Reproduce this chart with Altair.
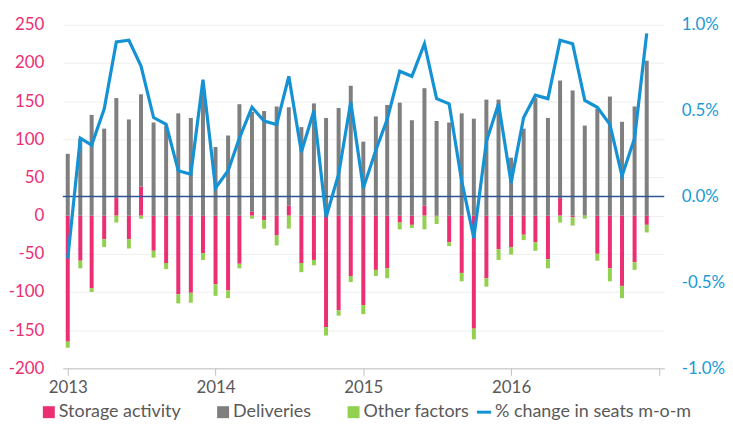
import altair as alt
import pandas as pd

years = [2013, 2014, 2015, 2016]
month_nums = list(range(1, 13))
dates = [f"{y}-{m:02d}-01" for y in years for m in month_nums]

storage = [
    -165, -59, -95, -31, 23, -31, 38, -46, -62, -103, -101, -49,
    -90, -98, -63, 5, -6, -26, 13, -62, -58, -146, -124, -79,
    -117, -71, -69, -9, -12, 13, -1, -35, -75, -148, -82, -44,
    -41, -25, -35, -57, 23, -2, 0, -50, -69, -92, -61, -12,
]
deliveries = [
    81, 101, 132, 114, 131, 126, 121, 122, 118, 134, 128, 172,
    90, 105, 146, 131, 137, 143, 129, 116, 147, 128, 141, 170,
    97, 130, 145, 148, 125, 154, 124, 122, 134, 127, 152, 152,
    76, 114, 154, 128, 154, 164, 118, 140, 156, 123, 143, 203,
]
other = [
    -8, -10, -5, -10, -9, -12, -4, -9, -8, -12, -13, -9,
    -15, -10, -6, -4, -11, -13, -17, -12, -7, -11, -7, -8,
    -12, -8, -13, -9, -4, -18, -10, -5, -11, -14, -11, -14,
    -10, -7, -11, -12, -9, -11, -4, -9, -17, -16, -10, -10,
]
pct_change = [
    -0.36, 0.34, 0.30, 0.51, 0.90, 0.91, 0.76, 0.46, 0.42, 0.15, 0.13, 0.68,
    0.05, 0.15, 0.34, 0.52, 0.44, 0.42, 0.70, 0.26, 0.50, -0.12, 0.13, 0.55,
    0.05, 0.27, 0.45, 0.73, 0.70, 0.89, 0.57, 0.54, 0.09, -0.24, 0.32, 0.54,
    0.08, 0.46, 0.59, 0.57, 0.91, 0.89, 0.56, 0.52, 0.42, 0.12, 0.34, 0.95,
]

series_names = ["Storage activity", "Deliveries", "Other factors"]
line_name = "% change in seats m-o-m"
bar_colors = ["#EC2E73", "#7F7F7F", "#92D050"]
line_color = "#1592D4"
pink = "#EC2E73"
blue_label = "#1A9AD6"
text_grey = "#595959"
FONT = "Lato"
FS = 17
LFS = 18

rows = []
for i, d in enumerate(dates):
    for k, (name, vals) in enumerate(zip(series_names, [storage, deliveries, other])):
        rows.append({"date": d, "series": name, "value": vals[i], "ord": k})
bars_df = pd.DataFrame(rows)
line_df = pd.DataFrame({"date": dates, "pct": [p / 100 for p in pct_change], "series": line_name})
zero_df = pd.DataFrame({"z": [0]})

x_scale = alt.Scale(
    type="utc",
    domain=[alt.DateTime(year=2013, month=1, date=1, utc=True),
            alt.DateTime(year=2017, month=1, date=1, utc=True)],
)
x_axis = alt.Axis(
    values=[alt.DateTime(year=y, month=1, date=1, utc=True) for y in [2013, 2014, 2015, 2016, 2017]],
    labelExpr="utcyear(datum.value) >= 2017 ? '' : utcFormat(datum.value, '%Y')",
    grid=False, domainColor="#BFBFBF", tickColor="#BFBFBF", tickSize=7,
    labelColor=text_grey, labelFontSize=FS, labelFont=FONT, labelPadding=4, title=None,
)

bars = alt.Chart(bars_df).mark_bar(size=4).encode(
    x=alt.X("date:T", scale=x_scale, axis=x_axis),
    y=alt.Y(
        "value:Q", stack="zero",
        scale=alt.Scale(domain=[-200, 250], nice=False),
        axis=alt.Axis(
            values=list(range(-200, 251, 50)),
            labelExpr="datum.value < 0 ? '-' + format(-datum.value, 'd') : format(datum.value, 'd')",
            labelColor=pink, labelFontSize=FS, labelFont=FONT, ticks=False, domain=False,
            gridColor="#EEEEEE", title=None, labelPadding=19,
        ),
    ),
    color=alt.Color(
        "series:N",
        scale=alt.Scale(domain=series_names, range=bar_colors),
        legend=alt.Legend(
            orient="none", legendX=-23, legendY=380, direction="horizontal", title=None,
            symbolType="square", symbolSize=144, symbolStrokeWidth=0,
            labelFontSize=LFS, labelFont=FONT, labelColor=text_grey, labelLimit=400,
            columnPadding=33, labelOffset=1,
        ),
    ),
    order=alt.Order("ord:Q", sort="ascending"),
)

rule = alt.Chart(zero_df).mark_rule(color="#2F5597", strokeWidth=1.5).encode(
    y=alt.Y("z:Q")
)

line = alt.Chart(line_df).mark_line(strokeWidth=3.2).encode(
    x=alt.X("date:T", scale=x_scale),
    y=alt.Y(
        "pct:Q",
        scale=alt.Scale(domain=[-0.01, 0.01], nice=False),
        axis=alt.Axis(
            orient="right", values=[-0.01, -0.005, 0, 0.005, 0.01],
            labelExpr="datum.value < 0 ? '-' + format(-datum.value, '.1%') : format(datum.value, '.1%')",
            labelColor=blue_label, labelFontSize=FS, labelFont=FONT, ticks=False, domain=False,
            grid=False, title=None, labelPadding=17,
        ),
    ),
    stroke=alt.Stroke(
        "series:N",
        scale=alt.Scale(domain=[line_name], range=[line_color]),
        legend=alt.Legend(
            orient="none", legendX=414, legendY=380, direction="horizontal", title=None,
            symbolType="stroke", symbolStrokeWidth=3, symbolSize=200,
            labelFontSize=LFS, labelFont=FONT, labelColor=text_grey, labelOffset=2,
            labelLimit=400,
        ),
    ),
)

chart = alt.layer(bars, alt.layer(rule, line)).resolve_scale(
    y="independent"
).properties(
    width=604, height=345, padding={"left": 0, "top": 7, "right": 0, "bottom": 0}
).configure_view(stroke=None)

chart.save("out.html", embed_options={"renderer": "svg", "actions": False})
